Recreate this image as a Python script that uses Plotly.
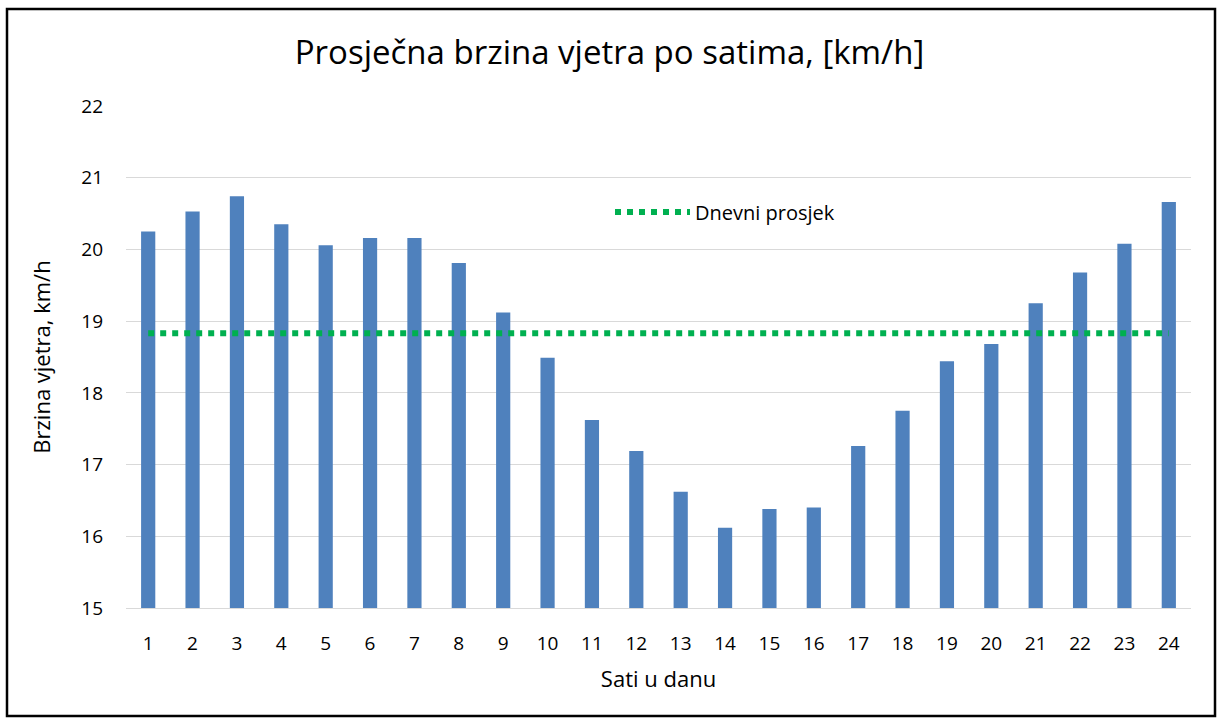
import plotly.graph_objects as go

hours = [str(h) for h in range(1, 25)]
speed = [20.25, 20.53, 20.74, 20.35, 20.06, 20.16, 20.16, 19.81, 19.12, 18.49,
         17.62, 17.19, 16.62, 16.12, 16.38, 16.40, 17.26, 17.75, 18.44, 18.68,
         19.25, 19.68, 20.08, 20.66]
daily_avg = 18.83
avg_line = [daily_avg] * len(hours)
y_ticks = [15, 16, 17, 18, 19, 20, 21, 22]

FONT = "Open Sans"

fig = go.Figure()
fig.add_trace(go.Bar(x=hours, y=speed, marker=dict(color="#4F81BD", line=dict(width=0)),
                     showlegend=False, name="Brzina"))
fig.add_trace(go.Scatter(x=hours, y=avg_line, mode="lines", name="Dnevni prosjek",
                         line=dict(color="#00B050", width=6, dash="6px,6px")))

W, H = 1219, 720
ml, mr, mt, mb = 126, 28, 106, 112
pw, ph = W - ml - mr, H - mt - mb

def px(x):
    return (x - ml) / pw

def py(y):
    return (H - mb - y) / ph

fig.update_layout(
    width=W, height=H,
    margin=dict(l=ml, r=mr, t=mt, b=mb),
    paper_bgcolor="white", plot_bgcolor="white",
    font=dict(family=FONT, color="#000000", size=19),
    title=dict(text="Prosječna brzina vjetra po satima, [km/h]", x=0.5, xanchor="center",
               y=1 - 52 / H, yanchor="middle", font=dict(size=33, family=FONT, color="#000000")),
    bargap=0.68,
    xaxis=dict(type="category", showgrid=False, showline=True, linecolor="#D9D9D9", linewidth=1,
               ticks="", ticklabelstandoff=18, tickfont=dict(size=19),
               title=dict(text="Sati u danu", font=dict(size=22), standoff=16)),
    yaxis=dict(range=[15, 22], tickvals=y_ticks, showgrid=True, gridcolor="#D9D9D9", gridwidth=1,
               zeroline=False, showline=False, ticks="", ticklabelstandoff=22,
               tickfont=dict(size=19),
               title=dict(text="Brzina vjetra, km/h", font=dict(size=22), standoff=24)),
    legend=dict(x=px(610), y=py(212), xanchor="left", yanchor="middle", itemwidth=75,
                bgcolor="rgba(0,0,0,0)", font=dict(size=20)),
    shapes=[dict(type="rect", xref="paper", yref="paper",
                 x0=px(7), x1=px(1215), y0=py(716), y1=py(9),
                 line=dict(color="#000000", width=2.5), layer="above")],
)

fig.write_html("out.html", config={"displayModeBar": False},
               post_script="document.body.style.margin='0';")
